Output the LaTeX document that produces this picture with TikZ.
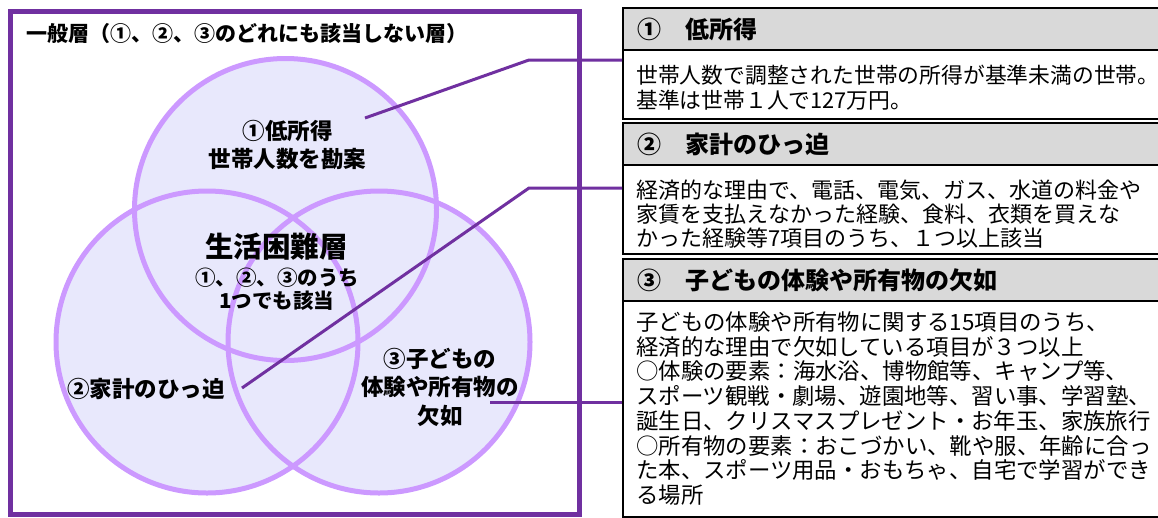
\documentclass[tikz,border=0pt]{standalone}
\usepackage{fontspec}
\newfontfamily\jp{Noto Sans CJK JP}
\definecolor{framec}{RGB}{112,48,160}
\definecolor{ringc}{RGB}{204,153,255}
\definecolor{ringfill}{RGB}{232,232,252}
\definecolor{hdrgray}{RGB}{217,217,217}
\tikzset{
  hdrbox/.style={draw=black, line width=2pt, fill=hdrgray, anchor=north west,
    minimum height=42pt, inner xsep=14pt, inner ysep=0pt, text width=512pt, align=left,
    font=\jp\bfseries\fontsize{24}{28}\selectfont},
  bodybox/.style={draw=black, line width=2pt, fill=white, anchor=north west,
    minimum width=540pt, inner sep=0pt},
  bodytext/.style={anchor=west, inner sep=0pt, align=left},
  lbl/.style={inner sep=0pt, align=center, text=black},
  conn/.style={draw=framec, line width=3pt},
  ring/.style={draw=ringc, line width=5pt},
}
\begin{document}
\begin{tikzpicture}[x=1pt,y=-1pt]
\useasboundingbox[fill=white] (0,0) rectangle (1158,517);

% outer frame
\draw[draw=framec, line width=5pt] (10.5,11) rectangle (579.5,514);
\node[anchor=west, inner sep=0pt, font=\jp\bfseries\fontsize{21}{24}\selectfont] (title) at (26,34)
  {一般層（①、②、③のどれにも該当しない層）};

% circles
\coordinate (cc1) at (285.5,209.5);
\coordinate (cc2) at (207,342);
\coordinate (cc3) at (379,342);
\fill[ringfill] (cc1) circle[radius=151pt] (cc2) circle[radius=151pt] (cc3) circle[radius=151pt];
\draw[ring] (cc1) circle[radius=151pt];
\draw[ring] (cc2) circle[radius=151pt];
\draw[ring] (cc3) circle[radius=151pt];

% circle labels
\node[lbl, font=\jp\bfseries\fontsize{22.5}{28}\selectfont] (lab1) at (287.5,145) {①低所得\\世帯人数を勘案};
\node[lbl, font=\jp\bfseries\fontsize{28.5}{32}\selectfont] (core) at (276.5,247) {生活困難層};
\node[lbl, font=\jp\bfseries\fontsize{20.5}{23.5}\selectfont] (coresub) at (277,289) {①、②、③のうち\\1つでも該当};
\node[lbl, font=\jp\bfseries\fontsize{22.5}{28}\selectfont] (lab2) at (146,389) {②家計のひっ迫};
\node[lbl, font=\jp\bfseries\fontsize{22.5}{28.5}\selectfont] (lab3) at (440,387) {③子どもの\\体験や所有物の\\欠如};

% right boxes
\node[hdrbox] (h1) at (622,7) {①　低所得};
\node[bodybox, minimum height=69pt] (b1) at (622,49) {};
\node[hdrbox] (h2) at (622,122) {②　家計のひっ迫};
\node[bodybox, minimum height=89pt] (b2) at (622,164) {};
\node[hdrbox] (h3) at (622,258) {③　子どもの体験や所有物の欠如};
\node[bodybox, minimum height=216pt] (b3) at (622,300) {};

\node[bodytext, font=\jp\fontsize{21.8}{25}\selectfont] (t1) at (636,87.5)
  {世帯人数で調整された世帯の所得が基準未満の世帯。\\基準は世帯１人で127万円。};
\node[bodytext, font=\jp\fontsize{22}{24}\selectfont] (t2) at (636,213.7)
  {経済的な理由で、電話、電気、ガス、水道の料金や\\家賃を支払えなかった経験、食料、衣類を買えな\\かった経験等7項目のうち、１つ以上該当};
\node[bodytext, font=\jp\fontsize{22.4}{24.7}\selectfont] (t3) at (636,408.5)
  {子どもの体験や所有物に関する15項目のうち、\\経済的な理由で欠如している項目が３つ以上\\○体験の要素：海水浴、博物館等、キャンプ等、\\スポーツ観戦・劇場、遊園地等、習い事、学習塾、\\誕生日、クリスマスプレゼント・お年玉、家族旅行\\○所有物の要素：おこづかい、靴や服、年齢に合っ\\た本、スポーツ用品・おもちゃ、自宅で学習ができ\\る場所};

% connectors
\coordinate (l1s) at (365,118);
\coordinate (l1k) at (529,60);
\coordinate (l2s) at (242,388);
\coordinate (l2k) at (529,188);
\coordinate (l3s) at (490,402);
\draw[conn] (l1s) -- (l1k) -- (l1k -| b1.west);
\draw[conn] (l2s) -- (l2k) -- (l2k -| b2.west);
\draw[conn] (l3s) -- (l3s -| b3.west);
\end{tikzpicture}
\end{document}
